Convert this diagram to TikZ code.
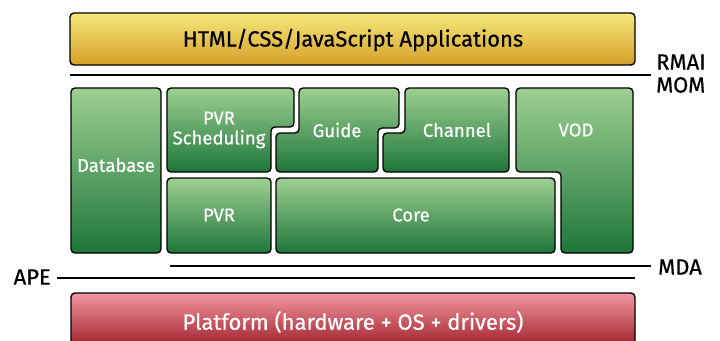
\documentclass[tikz,border=0pt]{standalone}
\usepackage{fontspec}
\setmainfont{Fira Sans}[FakeBold=0.6]
\begin{document}
\begin{tikzpicture}[x=1pt,y=-1pt,
  blk/.style={draw=black,line width=1.4pt,rounded corners=4pt},
  greenblk/.style={blk,top color=gtop,bottom color=gbot},
  wlabel/.style={text=white,font=\fontsize{18.5}{21}\selectfont,align=center,inner sep=0pt},
  klabel/.style={text=black,font=\fontsize{22}{24}\selectfont,inner sep=0pt},
  sep/.style={line width=1.4pt,draw=black}]
\definecolor{gtop}{RGB}{158,208,146}
\definecolor{gbot}{RGB}{30,118,58}
\definecolor{ytop}{RGB}{246,232,122}
\definecolor{ybot}{RGB}{214,160,42}
\definecolor{rtop}{RGB}{244,150,160}
\definecolor{rbot}{RGB}{150,22,32}
\useasboundingbox (0,0) rectangle (720,340);
% top application layer
\draw[blk,top color=ytop,bottom color=ybot] (70,13) rectangle (635,65);
\node[klabel] (apps) at (353,40) {HTML/CSS/JavaScript Applications};
% separator lines
\coordinate (rmaL) at (70,75);
\coordinate (rmaR) at (651,75);
\draw[sep] (rmaL) -- (rmaR);
\coordinate (mdaL) at (170,266);
\coordinate (mdaR) at (651,266);
\draw[sep] (mdaL) -- (mdaR);
\coordinate (apeL) at (57,278);
\coordinate (apeR) at (635,278);
\draw[sep] (apeL) -- (apeR);
% green blocks
\draw[greenblk] (71,88) rectangle (161,253);
\node[wlabel] (db) at (116,165) {Database};
\draw[greenblk] (167,88) -- (294,88) -- (294,127) -- (271,127) -- (271,172) -- (167,172) -- cycle;
\node[wlabel] (pvrs) at (219,130) {PVR\\[-1pt]Scheduling};
\draw[greenblk] (299,88) -- (399,88) -- (399,128) -- (378,128) -- (378,172) -- (276,172) -- (276,133) -- (299,133) -- cycle;
\node[wlabel] (guide) at (337,130) {Guide};
\draw[greenblk] (405,88) -- (509,88) -- (509,172) -- (383,172) -- (383,133) -- (405,133) -- cycle;
\node[wlabel] (chan) at (457,130) {Channel};
\draw[greenblk] (516,88) -- (633,88) -- (633,253) -- (561,253) -- (561,172) -- (516,172) -- cycle;
\node[wlabel] (vod) at (576,130) {VOD};
\draw[greenblk] (167,178) rectangle (271,253);
\node[wlabel] (pvr) at (219,215) {PVR};
\draw[greenblk] (276,178) rectangle (555,253);
\node[wlabel] (core) at (411,215) {Core};
% platform
\draw[blk,top color=rtop,bottom color=rbot] (71,293) rectangle (635,352);
\node[wlabel,font=\fontsize{22}{24}\selectfont] (plat) at (353,322) {Platform (hardware + OS + drivers)};
% interface labels
\node[klabel,anchor=west] (rmai) at (656,62) {RMAI};
\node[klabel,anchor=west] (mom) at (656,85) {MOM};
\node[klabel,anchor=west] (mda) at (658,267) {MDA};
\node[klabel,anchor=east] (ape) at (51,277) {APE};
\end{tikzpicture}
\end{document}
